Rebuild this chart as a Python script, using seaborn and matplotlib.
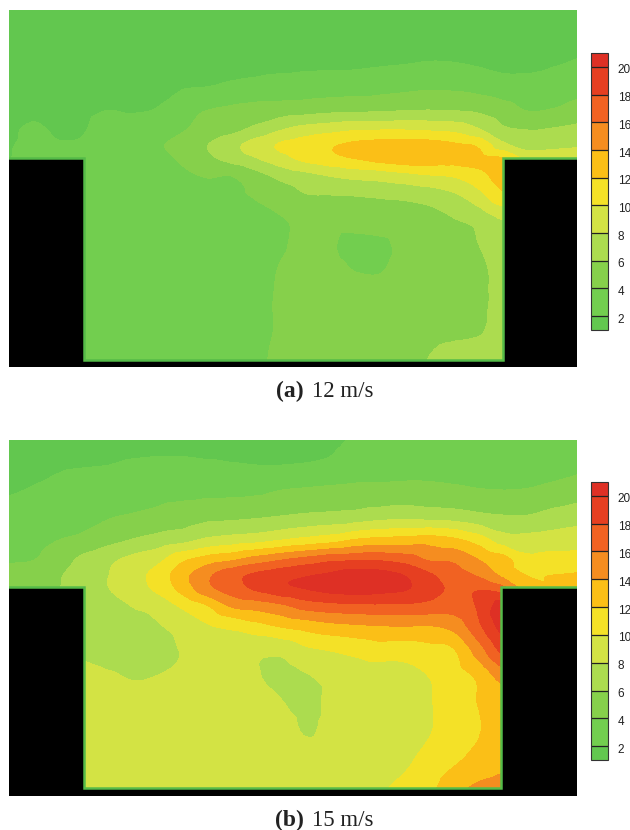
import matplotlib
matplotlib.use('Agg')
import matplotlib.pyplot as plt
import matplotlib.tri as mtri
from matplotlib.transforms import ScaledTranslation
import seaborn as sns
import numpy as np

# x and y of the sampled field (distance from top left of each panel)
x_pos = [0, 25, 50, 75, 100, 124, 149, 174, 199, 223, 248, 273, 297, 322, 347, 371, 396, 421, 445, 470, 494, 519, 544, 568]
y_pos = [0, 25, 50, 75, 100, 120, 135, 148, 165, 185, 210, 235, 260, 290, 320, 350]

levels = [1, 2, 4, 6, 8, 10, 12, 14, 16, 18, 20, 21]
tick_vals = [2, 4, 6, 8, 10, 12, 14, 16, 18, 20]
band_colors = ['#62c74f', '#72ce4f', '#86d04b', '#acdc4f', '#d3e344', '#f4e127',
               '#fbbf17', '#f58d20', '#f16222', '#e63f21', '#de3025']

speed_12 = [
    [1.4] * 24,
    [1.5] * 24,
    [1.6, 1.6, 1.6, 1.6, 1.6, 1.6, 1.6, 1.6, 1.6, 1.6, 1.6, 1.6, 1.6, 1.6, 1.6, 1.7, 1.8, 1.95, 1.9, 1.7, 1.5, 1.5, 1.7, 2.05],
    [1.7, 1.7, 1.7, 1.7, 1.7, 1.7, 1.7, 1.8, 1.9, 2.2, 2.4, 2.6, 2.8, 2.9, 3.0, 3.2, 3.4, 3.6, 3.5, 3.2, 2.7, 2.6, 3.0, 3.4],
    [1.8, 1.85, 1.8, 1.8, 2.0, 1.9, 2.1, 3.4, 4.0, 4.4, 4.8, 5.0, 5.2, 5.5, 5.6, 5.7, 5.9, 6.0, 5.9, 5.6, 4.9, 3.9, 4.1, 4.6],
    [1.85, 2.15, 1.85, 1.95, 2.6, 2.7, 3.2, 3.9, 4.7, 5.5, 6.6, 8.0, 8.9, 9.4, 9.9, 10.0, 10.0, 9.8, 9.5, 8.2, 6.4, 6.0, 6.2, 6.6],
    [1.8, 2.6, 2.15, 2.2, 2.9, 3.0, 3.8, 4.6, 6.0, 7.4, 9.0, 10.3, 11.0, 11.8, 12.4, 12.8, 13.0, 12.8, 12.3, 11.6, 8.5, 7.0, 7.2, 7.6],
    [1.9, 3.0, 3.0, 3.0, 3.0, 3.1, 3.5, 4.3, 5.6, 6.8, 8.0, 9.4, 10.6, 11.5, 12.1, 12.8, 13.2, 13.2, 12.8, 12.4, 12.0, 9.5, 9.8, 10.0],
    [3.0, 3.0, 3.0, 3.0, 3.0, 3.0, 3.1, 3.6, 4.2, 4.1, 5.4, 6.7, 7.5, 8.2, 8.7, 9.0, 9.5, 10.0, 10.3, 11.4, 12.8, 12.8, 12.8, 12.8],
    [2.9, 2.9, 2.9, 2.9, 2.9, 2.9, 3.0, 3.0, 3.2, 3.7, 4.2, 5.0, 5.9, 6.0, 6.1, 6.3, 6.5, 6.9, 7.7, 9.4, 11.6, 11.6, 11.6, 11.6],
    [3.0, 3.0, 3.0, 3.0, 3.0, 3.0, 3.0, 3.0, 3.0, 3.2, 3.6, 3.9, 4.4, 4.5, 4.7, 4.9, 5.0, 5.3, 5.9, 6.6, 8.0, 8.0, 8.0, 8.0],
    [3.0, 3.0, 3.0, 3.0, 3.0, 3.0, 3.0, 3.0, 3.0, 3.0, 3.3, 3.9, 4.2, 4.1, 3.6, 3.7, 4.4, 4.7, 5.1, 6.0, 7.0, 7.0, 7.0, 7.0],
    [3.0, 3.0, 3.0, 3.0, 3.0, 3.0, 3.0, 3.0, 3.0, 3.0, 3.5, 4.1, 4.4, 4.4, 3.95, 3.9, 4.6, 4.9, 5.2, 5.5, 6.8, 6.8, 6.8, 6.8],
    [3.0, 3.0, 3.0, 3.0, 3.0, 3.0, 3.0, 3.0, 3.0, 3.0, 3.6, 4.2, 4.6, 4.7, 4.8, 4.9, 5.0, 5.1, 5.3, 5.5, 6.7, 6.7, 6.7, 6.7],
    [3.0, 3.0, 3.0, 3.0, 3.0, 3.0, 3.0, 3.0, 3.0, 3.0, 3.6, 4.2, 4.7, 4.8, 4.9, 5.0, 5.1, 5.3, 5.5, 5.8, 6.8, 6.8, 6.8, 6.8],
    [3.0, 3.0, 3.0, 3.0, 3.0, 3.0, 3.0, 3.0, 3.0, 3.2, 3.8, 4.2, 4.3, 4.4, 4.5, 4.6, 4.8, 6.1, 7.0, 7.2, 7.2, 7.2, 7.2, 7.2],
]

speed_15 = [
    [1.7, 1.6, 1.5, 1.5, 1.5, 1.5, 1.5, 1.5, 1.5, 1.5, 1.5, 1.4, 1.5, 1.8, 2.1, 2.3, 2.4, 2.4, 2.4, 2.5, 2.5, 2.6, 2.6, 2.6],
    [1.6, 1.7, 1.8, 1.9, 2.0, 2.2, 2.3, 2.3, 2.2, 2.1, 2.0, 2.0, 2.1, 2.3, 2.6, 2.9, 3.0, 3.1, 3.0, 3.0, 2.9, 3.0, 3.2, 3.5],
    [1.85, 2.1, 2.5, 3.0, 3.1, 3.3, 3.5, 3.5, 3.5, 3.5, 3.6, 4.0, 4.2, 4.4, 4.6, 4.6, 4.7, 4.6, 4.4, 4.1, 4.0, 4.1, 4.5, 5.0],
    [2.6, 2.8, 3.0, 3.3, 3.8, 4.1, 4.4, 4.8, 5.3, 5.4, 5.6, 5.9, 6.2, 6.4, 6.6, 7.0, 7.2, 7.0, 6.8, 6.3, 6.0, 6.0, 6.6, 7.0],
    [3.3, 3.5, 4.0, 4.5, 5.4, 6.1, 6.8, 7.4, 8.4, 8.9, 9.3, 10.0, 10.6, 11.2, 12.2, 12.6, 12.8, 13.0, 12.4, 11.0, 9.0, 8.7, 8.9, 9.2],
    [3.8, 4.0, 5.0, 6.6, 7.6, 8.6, 9.5, 11.7, 13.0, 13.8, 15.0, 16.0, 16.8, 17.6, 17.8, 17.8, 17.2, 15.8, 15.6, 14.0, 12.8, 10.6, 10.8, 10.8],
    [4.8, 5.0, 5.8, 7.2, 8.0, 9.2, 10.8, 13.3, 15.6, 17.3, 18.4, 19.2, 19.8, 20.3, 20.9, 20.7, 19.9, 18.2, 16.9, 15.7, 13.5, 11.9, 12.0, 12.2],
    [5.5, 5.5, 6.0, 7.5, 8.0, 9.2, 10.5, 12.8, 15.5, 17.0, 18.4, 19.6, 20.1, 20.7, 21.0, 20.7, 20.2, 19.0, 17.5, 17.7, 16.5, 13.0, 13.0, 13.2],
    [7.7, 7.7, 7.7, 7.7, 7.5, 8.1, 8.8, 10.5, 12.1, 14.4, 15.0, 15.8, 17.0, 17.5, 17.7, 17.8, 17.8, 17.4, 17.0, 18.3, 20.8, 20.8, 20.8, 20.8],
    [7.3, 7.3, 7.3, 7.3, 7.1, 7.4, 7.9, 8.7, 9.9, 10.6, 11.5, 12.4, 13.0, 13.6, 13.9, 14.1, 14.2, 14.1, 14.8, 17.7, 20.8, 20.8, 20.8, 20.8],
    [7.6, 7.6, 7.6, 7.6, 6.7, 7.0, 7.5, 8.1, 8.5, 8.6, 8.4, 8.5, 9.6, 10.1, 10.6, 11.1, 11.0, 11.4, 11.9, 15.1, 18.5, 18.5, 18.5, 18.5],
    [8.5, 8.5, 8.5, 8.5, 8.2, 7.8, 8.0, 8.3, 8.6, 8.6, 8.1, 7.5, 7.9, 8.6, 9.0, 9.0, 9.3, 10.1, 11.1, 12.5, 15.0, 15.0, 15.0, 15.0],
    [8.7, 8.7, 8.7, 8.7, 8.7, 8.7, 8.7, 8.7, 8.7, 8.7, 8.7, 8.0, 7.4, 8.4, 8.8, 9.0, 9.3, 9.9, 11.0, 12.1, 13.0, 13.0, 13.0, 13.0],
    [8.7, 8.7, 8.7, 8.7, 8.7, 8.7, 8.7, 8.7, 8.7, 8.7, 8.7, 8.8, 7.8, 8.5, 8.8, 9.0, 9.3, 9.9, 11.0, 11.9, 13.0, 13.0, 13.0, 13.0],
    [8.7, 8.7, 8.7, 8.7, 8.7, 8.7, 8.7, 8.7, 8.7, 8.7, 8.7, 8.7, 8.8, 8.9, 9.0, 9.3, 9.7, 10.7, 11.7, 12.6, 13.4, 13.4, 13.4, 13.4],
    [8.7, 8.7, 8.7, 8.7, 8.7, 8.7, 8.7, 8.7, 8.7, 8.7, 8.7, 8.7, 8.7, 8.8, 8.8, 9.8, 10.5, 11.6, 13.3, 14.6, 15.0, 15.0, 15.0, 15.0],
]

sns.set_style('white')
pal = sns.color_palette(band_colors)

fig = plt.figure(figsize=(6.3, 8.3), dpi=100)
W, H = 630, 830

xx, yy = np.meshgrid(x_pos, y_pos)
grid_tri = mtri.Triangulation(xx.ravel(), yy.ravel())
refiner = mtri.UniformTriRefiner(grid_tri)


def draw_panel(values, top, bottom, step, floor, right_wall, cbar_top, cbar_bottom, tag, speed):
    ax = fig.add_axes([9 / W, 1 - bottom / H, 568 / W, (bottom - top) / H])
    field = np.array(values).ravel()
    # let matplotlib round off the contours of the read values
    fine_tri, fine_field = refiner.refine_field(field, mtri.CubicTriInterpolator(grid_tri, field, kind='geom'), subdiv=3)
    cs = ax.tricontourf(fine_tri, np.clip(fine_field, 1.01, 20.99), levels=levels, colors=pal)
    ymax = bottom - top
    ax.set_xlim(0, 568)
    ax.set_ylim(ymax, 0)
    # solid walls of the cavity
    wall_x = [0, 75, 75, right_wall, right_wall, 568]
    wall_y = [step, step, floor, floor, step, step]
    ax.fill_between(wall_x, wall_y, ymax, color='black', lw=0, zorder=3)
    ax.plot(wall_x, wall_y, color='#55bb48', lw=1.8, zorder=4, solid_joinstyle='miter')
    ax.axis('off')

    cax = fig.add_axes([591 / W, 1 - cbar_bottom / H, 17 / W, (cbar_bottom - cbar_top) / H])
    cb = fig.colorbar(cs, cax=cax, spacing='proportional', drawedges=True)
    cb.set_ticks(tick_vals)
    cb.set_ticklabels([str(t) for t in tick_vals], fontsize=8.5, family='Liberation Sans', color='#222222')
    cb.ax.tick_params(length=0, pad=7)
    # labels sit a little under their divider
    nudge = ScaledTranslation(0, -1.5 / 72, fig.dpi_scale_trans)
    for lab in cb.ax.get_yticklabels():
        lab.set_transform(lab.get_transform() + nudge)
    cb.outline.set_edgecolor('#333333')
    cb.outline.set_linewidth(0.8)
    cb.dividers.set_color('#222222')
    cb.dividers.set_linewidth(0.9)

    cap_y = 1 - (bottom + 24) / H
    fig.text(304 / W, cap_y, tag, ha='right', va='center', fontsize=17, fontweight='bold', family='Liberation Serif', color='#222222')
    fig.text(312 / W, cap_y, speed, ha='left', va='center', fontsize=16.5, family='Liberation Serif', color='#222222')


draw_panel(speed_12, 10, 367, 148, 350, 494, 53, 330, '(a)', '12 m/s')
draw_panel(speed_15, 440, 796, 147, 348, 492, 482, 760, '(b)', '15 m/s')

fig.savefig('out.png', dpi=100)
